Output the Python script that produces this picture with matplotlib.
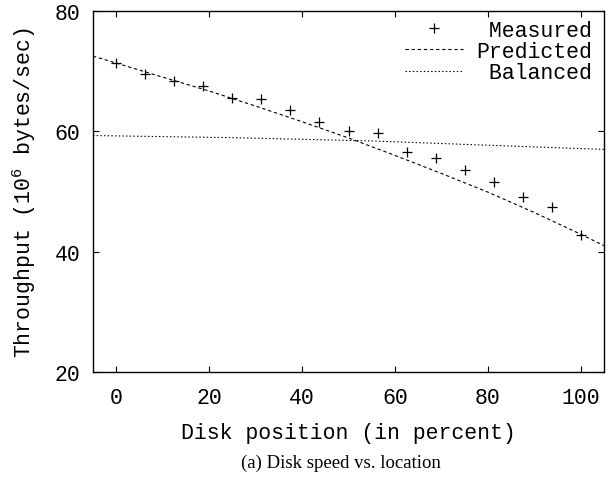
import matplotlib
matplotlib.use("Agg")
import matplotlib.pyplot as plt

# measured throughput at 17 spots across the disk
disk_pos = [0, 6.25, 12.5, 18.75, 25, 31.25, 37.5, 43.75, 50,
            56.25, 62.5, 68.75, 75, 81.25, 87.5, 93.75, 100]
measured = [71.4, 69.45, 68.4, 67.6, 65.6, 65.4, 63.5, 61.5, 60.0,
            59.7, 56.5, 55.5, 53.6, 51.6, 49.15, 47.5, 42.8]

# model curves
pred_x = [-5, 0, 10, 20, 30, 40, 50, 60, 70, 80, 90, 100, 105]
pred_y = [72.5, 71.35, 69.0, 66.7, 64.2, 61.6, 58.9, 56.0, 53.0, 49.9, 46.5, 42.9, 41.0]
bal_x = [-5, 25, 55, 85, 105]
bal_y = [59.3, 58.95, 58.4, 57.55, 57.0]

# monospace font, so padding with spaces right-aligns the legend text
labels = [" Measured", "Predicted", " Balanced"]

plt.rcParams["font.family"] = ["Liberation Mono", "DejaVu Sans Mono"]
plt.rcParams["mathtext.fontset"] = "custom"
plt.rcParams["mathtext.rm"] = "Liberation Mono"
plt.rcParams["mathtext.it"] = "Liberation Mono"
plt.rcParams["font.size"] = 15.5

fig = plt.figure(figsize=(6.08, 4.81), dpi=100)
ax = fig.add_axes([93 / 608, 1 - 373 / 481, (604 - 93) / 608, (373 - 12) / 481])

ax.plot(disk_pos, measured, linestyle="none", marker="+", color="black",
        markersize=7.5, markeredgewidth=0.9, label=labels[0])
ax.plot(pred_x, pred_y, color="black", linewidth=0.8, dashes=(3, 2.5), label=labels[1])
ax.plot(bal_x, bal_y, color="black", linewidth=0.8, dashes=(1.3, 2), label=labels[2])

ax.set_xlim(-5, 105)
ax.set_ylim(20, 80)
ax.set_xticks([0, 20, 40, 60, 80, 100])
ax.set_yticks([20, 40, 60, 80])
ax.tick_params(direction="in", length=4.5, width=0.8, top=True, right=True)
ax.tick_params(axis="x", pad=11)
ax.tick_params(axis="y", pad=9)
for s in ax.spines.values():
    s.set_linewidth(1.0)

ax.set_xlabel("Disk position (in percent)", labelpad=10)
ax.set_ylabel("Throughput ($10^6$ bytes/sec)")
ax.yaxis.set_label_coords(-0.107, 0.5)

ax.legend(loc="upper right", bbox_to_anchor=(1 - 4.5 / 511, 1 - 1.2 / 361),
          frameon=False, handlelength=2.7, handletextpad=0.6,
          labelspacing=0.01, borderaxespad=0.1, borderpad=0.25)

fig.text(0.56, 1 - 463 / 481, "(a) Disk speed vs. location", family="Liberation Serif",
         fontsize=13.5, ha="center", va="center")

fig.savefig("out.png", dpi=100)
